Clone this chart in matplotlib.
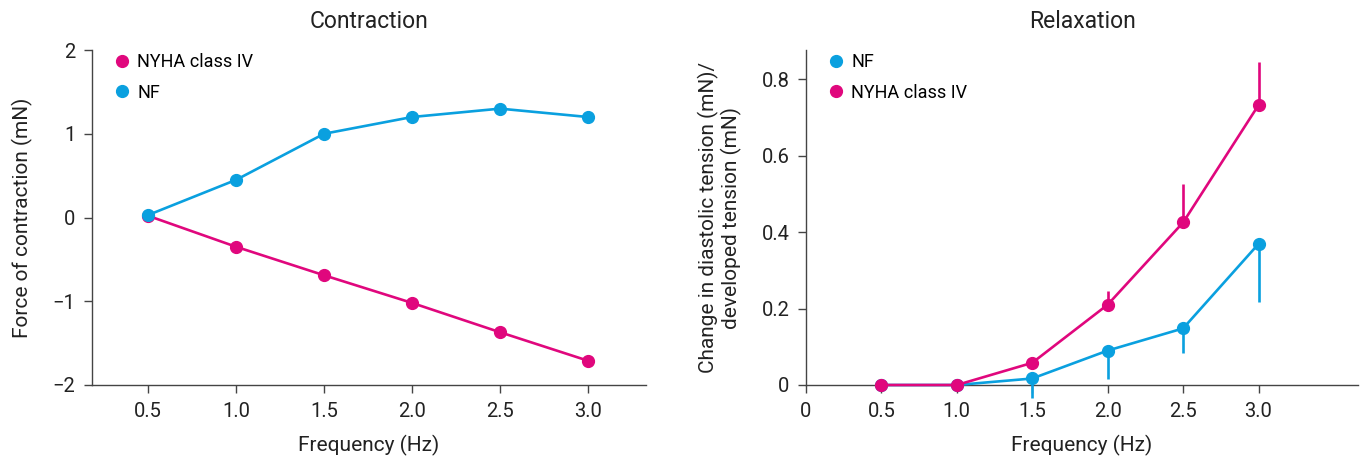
import matplotlib.pyplot as plt
from matplotlib.lines import Line2D

plt.rcParams['font.family'] = ['Roboto', 'DejaVu Sans']

PINK = "#E0077D"
BLUE = "#0AA0DF"
AXC = "#444444"
TXT = "#222222"

freq = [0.5, 1.0, 1.5, 2.0, 2.5, 3.0]

# Contraction (mN)
contr_nf = [0.03, 0.45, 1.0, 1.2, 1.3, 1.2]
contr_nyha = [0.02, -0.35, -0.69, -1.02, -1.37, -1.71]

# Relaxation
relax_nf = [0.0, 0.0, 0.017, 0.09, 0.148, 0.369]
relax_nf_err = [0.0, 0.0, 0.051, 0.075, 0.064, 0.152]      # drawn downward
relax_nyha = [0.0, 0.0, 0.058, 0.21, 0.425, 0.732]
relax_nyha_err = [0.0, 0.0, 0.0, 0.037, 0.10, 0.113]       # drawn upward

fig = plt.figure(figsize=(13.6, 4.58), dpi=100)
ax1 = fig.add_axes([0.0676, 0.1594, 0.4074, 0.7314])
ax2 = fig.add_axes([0.5926, 0.1594, 0.4060, 0.7314])

lw = 1.9
ms = 8.5


def style(ax):
    for s in ["top", "right"]:
        ax.spines[s].set_visible(False)
    for s in ["left", "bottom"]:
        ax.spines[s].set_color(AXC)
        ax.spines[s].set_linewidth(1.0)
    ax.tick_params(direction="out", length=6, width=1, color=AXC,
                   labelsize=14.5, labelcolor=TXT, pad=6)


leg_kw = dict(loc="upper left", bbox_to_anchor=(0.005, 1.04), frameon=False,
              fontsize=13, handletextpad=0.25, labelspacing=0.7, handlelength=1.2)

# --- Contraction ---
ax1.plot(freq, contr_nyha, color=PINK, lw=lw, marker="o", ms=ms, zorder=3)
ax1.plot(freq, contr_nf, color=BLUE, lw=lw, marker="o", ms=ms, zorder=4)
ax1.set_xlim(0.18, 3.33)
ax1.set_ylim(-2, 2)
ax1.set_xticks(freq)
ax1.set_xticklabels(["0.5", "1.0", "1.5", "2.0", "2.5", "3.0"])
ax1.set_yticks([-2, -1, 0, 1, 2])
ax1.set_yticklabels(["\u22122", "\u22121", "0", "1", "2"])
ax1.set_xlabel("Frequency (Hz)", fontsize=15, color=TXT, labelpad=10)
ax1.set_ylabel("Force of contraction (mN)", fontsize=15, color=TXT, labelpad=14)
ax1.set_title("Contraction", fontsize=16.5, color=TXT, pad=16)
style(ax1)
h1 = [Line2D([], [], marker="o", ls="none", color=PINK, ms=ms),
      Line2D([], [], marker="o", ls="none", color=BLUE, ms=ms)]
ax1.legend(h1, ["NYHA class IV", "NF"], **leg_kw)

# --- Relaxation ---
ax2.errorbar(freq, relax_nf, yerr=[relax_nf_err, [0] * len(freq)], color=BLUE,
             lw=lw, marker="o", ms=ms, elinewidth=lw, capsize=0, zorder=3)
ax2.errorbar(freq, relax_nyha, yerr=[[0] * len(freq), relax_nyha_err], color=PINK,
             lw=lw, marker="o", ms=ms, elinewidth=lw, capsize=0, zorder=4)
for c in ax2.get_children():
    try:
        c.set_clip_on(False)
    except Exception:
        pass
ax2.set_xlim(0, 3.66)
ax2.set_ylim(0, 0.876)
ax2.set_xticks([0] + freq)
ax2.set_xticklabels(["0", "0.5", "1.0", "1.5", "2.0", "2.5", "3.0"])
ax2.set_yticks([0, 0.2, 0.4, 0.6, 0.8])
ax2.set_yticklabels(["0", "0.2", "0.4", "0.6", "0.8"])
ax2.set_xlabel("Frequency (Hz)", fontsize=15, color=TXT, labelpad=10)
ax2.set_ylabel("Change in diastolic tension (mN)/\ndeveloped tension (mN)",
               fontsize=15, color=TXT, labelpad=14, linespacing=1.1)
ax2.set_title("Relaxation", fontsize=16.5, color=TXT, pad=16)
style(ax2)
h2 = [Line2D([], [], marker="o", ls="none", color=BLUE, ms=ms),
      Line2D([], [], marker="o", ls="none", color=PINK, ms=ms)]
ax2.legend(h2, ["NF", "NYHA class IV"], **leg_kw)

fig.savefig("out.png", dpi=100)
